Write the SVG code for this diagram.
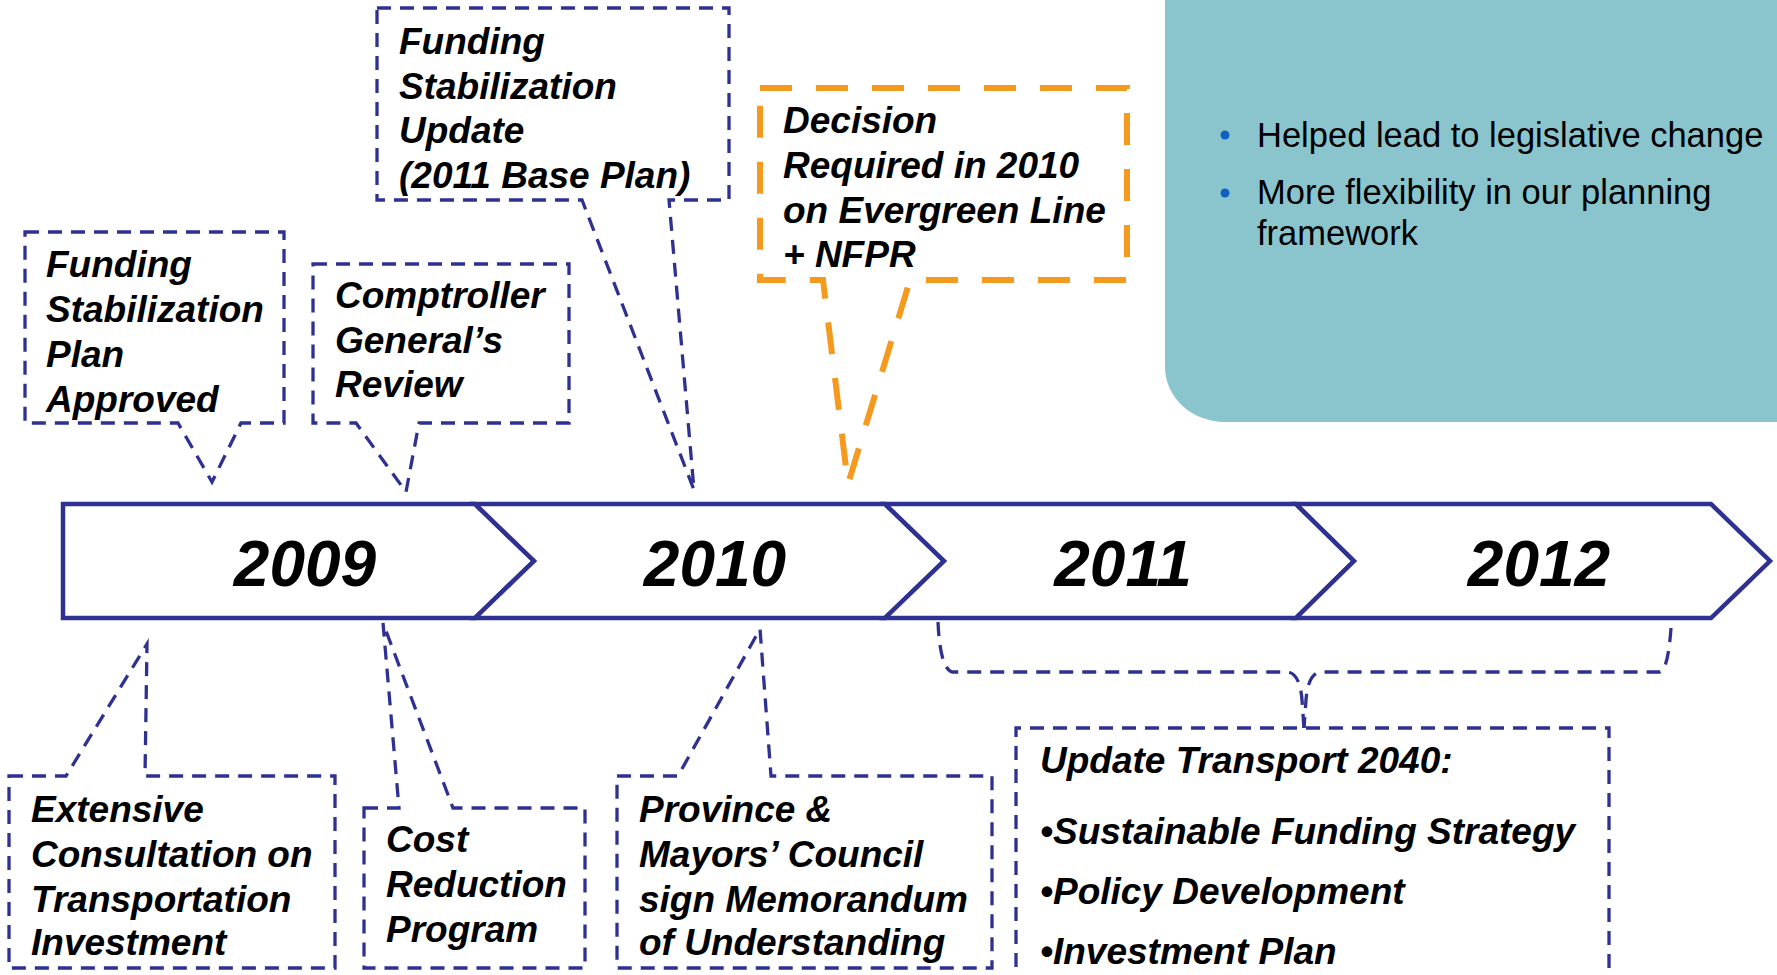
<svg xmlns="http://www.w3.org/2000/svg" width="1777" height="975" viewBox="0 0 1777 975">
<style>
.bt{font-family:"Liberation Sans",Arial,sans-serif;font-weight:bold;font-style:italic;font-size:37px;fill:#000}
.yr{font-family:"Liberation Sans",Arial,sans-serif;font-weight:bold;font-style:italic;font-size:64px;fill:#000;text-anchor:middle}
.bl{font-family:"Liberation Sans",Arial,sans-serif;font-size:34.5px;fill:#000}
.cb{fill:none;stroke:#2E3192;stroke-width:3.3;stroke-dasharray:14 9}
.co{fill:none;stroke:#F49A1F;stroke-width:6;stroke-dasharray:32 24}
.ch{fill:#fff;stroke:#2E3192;stroke-width:4.5;stroke-linejoin:miter}
</style>
<rect width="1777" height="975" fill="#fff"/>
<g id="teal-panel">
<path d="M1165 -10 H1790 V422 H1225 A60 55 0 0 1 1165 367 Z" fill="#8AC5CD"/>
<circle cx="1225" cy="135" r="4.5" fill="#1060C0"/>
<circle cx="1225" cy="193" r="4.5" fill="#1060C0"/>
<text class="bl" x="1257" y="147">Helped lead to legislative change</text>
<text class="bl" x="1257" y="204">More flexibility in our planning</text>
<text class="bl" x="1257" y="245">framework</text>
</g>
<g id="timeline">
<g id="y2009"><path class="ch" d="M63 504 H475 L534 561 L475 618 H63 Z"/><text class="yr" x="305" y="586">2009</text></g>
<g id="y2010"><path class="ch" d="M475 504 H885 L944 561 L885 618 H475 L534 561 Z"/><text class="yr" x="715" y="586">2010</text></g>
<g id="y2011"><path class="ch" d="M885 504 H1296 L1354 561 L1296 618 H885 L944 561 Z"/><text class="yr" x="1123" y="586">2011</text></g>
<g id="y2012"><path class="ch" d="M1296 504 H1711 L1770 561 L1711 618 H1296 L1354 561 Z"/><text class="yr" x="1539" y="586">2012</text></g>
</g>
<g id="connectors">
<path class="cb" d="M938 622 Q940 668 952 672 L1288 672 Q1300 674 1302 700 L1304 728"/>
<path class="cb" d="M1671 628 Q1668 670 1660 672 L1320 672 Q1308 674 1306 700 L1304 728"/>
</g>
<g id="n-fsp-approved">
<path class="cb" d="M25 232 H284 V423 H241 L212 482 L178 423 H25 Z"/>
<text class="bt" x="46" y="277">Funding</text>
<text class="bt" x="46" y="322">Stabilization</text>
<text class="bt" x="46" y="367">Plan</text>
<text class="bt" x="46" y="412">Approved</text>
</g>
<g id="n-comptroller">
<path class="cb" d="M313 264 H569 V423 H419 L406 492 L356 423 H313 Z"/>
<text class="bt" x="335" y="308">Comptroller</text>
<text class="bt" x="335" y="353">General’s</text>
<text class="bt" x="335" y="397">Review</text>
</g>
<g id="n-fsu">
<path class="cb" d="M377 8 H729 V200 H669 L694 490 L582 200 H377 Z"/>
<text class="bt" x="399" y="54">Funding</text>
<text class="bt" x="399" y="99">Stabilization</text>
<text class="bt" x="399" y="143">Update</text>
<text class="bt" x="399" y="188">(2011 Base Plan)</text>
</g>
<g id="n-decision">
<path class="co" d="M760 88 H1127 V280 H910 L848 484 L823 280 H760 Z"/>
<text class="bt" x="783" y="133">Decision</text>
<text class="bt" x="783" y="178">Required in 2010</text>
<text class="bt" x="783" y="223">on Evergreen Line</text>
<text class="bt" x="783" y="267">+ NFPR</text>
</g>
<g id="n-consultation">
<path class="cb" d="M9 776 H66 L147 644 L145 776 H335 V968 H9 Z"/>
<text class="bt" x="31" y="822">Extensive</text>
<text class="bt" x="31" y="867">Consultation on</text>
<text class="bt" x="31" y="912">Transportation</text>
<text class="bt" x="31" y="955">Investment</text>
</g>
<g id="n-cost">
<path class="cb" d="M364 808 H399 L383 623 L453 808 H585 V968 H364 Z"/>
<text class="bt" x="386" y="852">Cost</text>
<text class="bt" x="386" y="897">Reduction</text>
<text class="bt" x="386" y="942">Program</text>
</g>
<g id="n-province">
<path class="cb" d="M617 776 H678 L760 629 L771 776 H992 V968 H617 Z"/>
<text class="bt" x="639" y="822">Province &amp;</text>
<text class="bt" x="639" y="867">Mayors’ Council</text>
<text class="bt" x="639" y="912">sign Memorandum</text>
<text class="bt" x="639" y="955">of Understanding</text>
</g>
<g id="n-transport2040">
<path class="cb" d="M1016 990 V728 H1609 V990"/>
<text class="bt" x="1040" y="773">Update Transport 2040:</text>
<text class="bt" x="1040" y="844">•Sustainable Funding Strategy</text>
<text class="bt" x="1040" y="904">•Policy Development</text>
<text class="bt" x="1040" y="964">•Investment Plan</text>
</g>
</svg>
